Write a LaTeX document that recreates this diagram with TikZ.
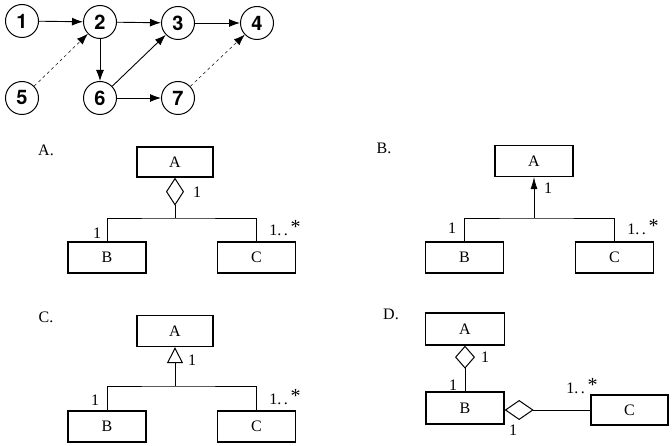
\documentclass[tikz,border=0pt]{standalone}
\usepackage{fontspec}
\setmainfont{Liberation Serif}
\newfontfamily\digitfont{TeX Gyre Heros}
\usetikzlibrary{arrows.meta}
\tikzset{
  vertex/.style={circle, draw, line width=1pt, minimum size=33pt, inner sep=0pt,
    font=\digitfont\bfseries\fontsize{20}{20}\selectfont},
  flow/.style={-{Latex[length=11pt,width=8pt]}, line width=0.9pt},
  weak/.style={flow, dashed, line width=0.5pt},
  cls/.style={draw, line width=1.3pt, minimum width=78pt, minimum height=31pt,
    inner sep=0pt, font=\fontsize{16}{16}\selectfont},
  link/.style={line width=0.9pt},
  mult/.style={font=\fontsize{16}{16}\selectfont, inner sep=1pt},
  tag/.style={font=\fontsize{16}{16}\selectfont}
}
\newcommand{\many}{1.\,.\,\raisebox{2pt}{\fontsize{20}{20}\selectfont *}}

\begin{document}
\begin{tikzpicture}[x=1pt, y=-1pt]
    \useasboundingbox (0,0) rectangle (672,446);

    % Event graph
    \node[vertex] (n1) at (22,21) {1};
    \node[vertex] (n2) at (100,22) {2};
    \node[vertex] (n3) at (178,23) {3};
    \node[vertex] (n4) at (257,23) {4};
    \node[vertex] (n5) at (22,98) {5};
    \node[vertex] (n6) at (100,98) {6};
    \node[vertex] (n7) at (178,98) {7};
    \draw[flow] (n1) -- (n2);
    \draw[flow] (n2) -- (n3);
    \draw[flow] (n3) -- (n4);
    \draw[flow] (n2) -- (n6);
    \draw[flow] (n6) -- (n3);
    \draw[flow] (n6) -- (n7);
    \draw[weak] (n5) -- (n2);
    \draw[weak] (n7) -- (n4);

    % Option A
    \node[tag] (tagA) at (46,150) {A.};
    \node[cls, minimum width=76pt, minimum height=30pt] (aA) at (175,162) {A};
    \node[cls] (aB) at (107,257.5) {B};
    \node[cls] (aC) at (256.5,257.5) {C};
    \coordinate (aJ) at (175,218);
    \draw[link, -{Diamond[open, length=28pt, width=18pt, line width=1pt]}] (aJ) -- (aA.south);
    \draw[link] (aB.north) |- (aJ) -| (aC.north);
    \node[mult] (aM1) at (197,192) {1};
    \node[mult] (aM2) at (97,233) {1};
    \node[mult] (aM3) at (285,228) {\many};

    % Option B
    \node[tag] (tagB) at (384,148) {B.};
    \node[cls] (bA) at (534,161) {A};
    \node[cls] (bB) at (464.5,257.5) {B};
    \node[cls] (bC) at (614.5,257.5) {C};
    \coordinate (bJ) at (534,218);
    \draw[link, line width=0.7pt, -{Latex[length=12pt, width=7pt]}] (bJ) -- (bA.south);
    \draw[link] (bB.north) |- (bJ) -| (bC.north);
    \node[mult] (bM1) at (548,188) {1};
    \node[mult] (bM2) at (452,228) {1};
    \node[mult] (bM3) at (643,227) {\many};

    % Option C
    \node[tag] (tagC) at (46,317) {C.};
    \node[cls, minimum width=76pt] (cA) at (175,331) {A};
    \node[cls] (cB) at (107,426.5) {B};
    \node[cls] (cC) at (256.5,426.5) {C};
    \coordinate (cJ) at (175,386);
    \draw[link, -{Triangle[open, length=16pt, width=16pt, line width=1pt]}] (cJ) -- (cA.south);
    \draw[link] (cB.north) |- (cJ) -| (cC.north);
    \node[mult] (cM1) at (192,360) {1};
    \node[mult] (cM2) at (95,400) {1};
    \node[mult] (cM3) at (285,397) {\many};

    % Option D
    \node[tag] (tagD) at (391,314) {D.};
    \node[cls, minimum width=79pt, minimum height=32pt] (dA) at (465,329) {A};
    \node[cls, minimum height=32pt] (dB) at (465,408) {B};
    \node[cls, minimum width=77pt, minimum height=30pt] (dC) at (629.5,410) {C};
    \draw[link, -{Diamond[open, length=23pt, width=20pt, line width=1pt]}] (dB.north) -- (dA.south);
    \draw[link, -{Diamond[open, length=29pt, width=20pt, line width=1pt]}] (dC.west) -- (dB.east |- dC.west);
    \node[mult] (dM1) at (485,357) {1};
    \node[mult] (dM2) at (453,385) {1};
    \node[mult] (dM3) at (582,386) {\many};
    \node[mult] (dM4) at (513,430) {1};
\end{tikzpicture}
\end{document}
